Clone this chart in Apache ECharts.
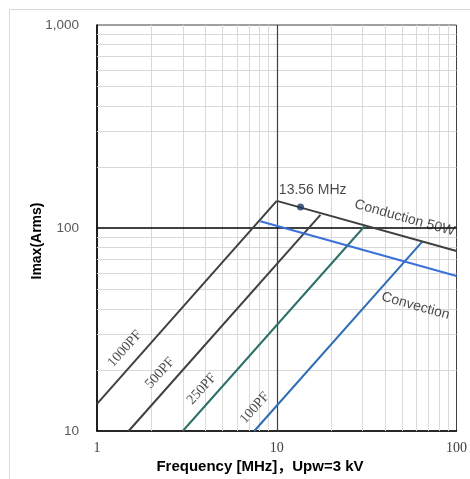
<!DOCTYPE html>
<html><head><meta charset="utf-8">
<script src="https://cdn.jsdelivr.net/npm/echarts@6/dist/echarts.min.js"></script>
<style>html,body{margin:0;padding:0;background:#fff}#c{width:470px;height:479px}</style>
</head><body><div id="c"></div>
<script>
// ---- data ----
const xTickLabels = {1: '1', 10: '10', 100: '100'};
const yTickLabels = {10: '10', 100: '100', 1000: '1,000'};
const line1000pF = [[1, 13.6], [10, 136]];
const line500pF = [[1.5, 10], [17.5, 116]];
const line250pF = [[3, 10], [30.8, 102]];
const line100pF = [[7.5, 10], [64.7, 86]];
const conduction = [[10, 136], [100, 77]];
const convection = [[8.1, 108], [100, 58]];
const marker1356 = [[13.56, 127]];
const minorX = [2,3,4,5,6,7,8,9,20,30,40,50,60,70,80,90];
const minorY = [20,30,40,50,60,70,80,90,200,300,400,500,600,700,800,900];
const annotations = [
  {name: '1000PF', value: [1.43, 25.4], rot: 48, serif: true},
  {name: '500PF', value: [2.24, 19.3], rot: 48, serif: true},
  {name: '250PF', value: [3.83, 16.1], rot: 48, serif: true},
  {name: '100PF', value: [7.55, 13.0], rot: 48, serif: true},
  {name: 'Conduction 50W', value: [51.4, 112], rot: -15.6, serif: false},
  {name: 'Convection', value: [59.2, 41.3], rot: -15.5, serif: false},
  {name: '13.56 MHz', value: [15.85, 153], rot: 0, serif: false}
];

const chart = echarts.init(document.getElementById('c'), null, {renderer: 'canvas'});
const gridLines = minorX.map(v => ({xAxis: v, lineStyle: {color: '#d9d9d9', width: 1, type: 'solid'}}))
  .concat(minorY.map(v => ({yAxis: v, lineStyle: {color: '#d9d9d9', width: 1, type: 'solid'}})))
  .concat([{xAxis: 10, lineStyle: {color: '#404040', width: 1.2, type: 'solid'}},
           {yAxis: 100, lineStyle: {color: '#000', width: 1.6, type: 'solid'}}]);

function lineSeries(data, color) {
  return {type: 'line', data: data, symbol: 'none', silent: true, z: 10,
    lineStyle: {color: color, width: 2, type: 'solid'}, animation: false};
}

chart.setOption({
  animation: false,
  backgroundColor: '#fff',
  grid: {left: 97, right: 13, top: 25, bottom: 48, show: true, borderColor: '#404040', borderWidth: 1},
  xAxis: {type: 'log', logBase: 10, min: 1, max: 100,
    axisLine: {show: true, lineStyle: {color: '#000', width: 1.6}},
    axisTick: {show: false}, splitLine: {show: false}, minorSplitLine: {show: false},
    axisLabel: {margin: 10, color: '#404040', fontFamily: 'Liberation Serif', fontSize: 14,
      formatter: v => xTickLabels[Math.round(v)] || ''}},
  yAxis: {type: 'log', logBase: 10, min: 10, max: 1000,
    axisLine: {show: true, lineStyle: {color: '#000', width: 1.6}},
    axisTick: {show: false}, splitLine: {show: false}, minorSplitLine: {show: false},
    axisLabel: {margin: 18, color: '#595959', fontFamily: 'Liberation Sans', fontSize: 13.5,
      formatter: v => yTickLabels[Math.round(v)] || ''}},
  graphic: [
    {type: 'rect', shape: {x: 9.5, y: 9.5, width: 500, height: 500}, style: {fill: 'none', stroke: '#d9d9d9', lineWidth: 1}, z: -1},
    {type: 'text', x: 37, y: 241, rotation: Math.PI / 2,
      style: {text: 'Imax(Arms)', font: 'bold 14px "Liberation Sans"', fill: '#000', align: 'center', verticalAlign: 'middle'}},
    {type: 'text', x: 260, y: 467,
      style: {text: 'Frequency [MHz]，Upw=3 kV', font: 'bold 15px "Liberation Sans", "Noto Sans CJK SC"', fill: '#000', align: 'center', verticalAlign: 'middle'}}
  ],
  series: [
    {type: 'line', data: [], silent: true, z: 1,
      markLine: {silent: true, z: 1, symbol: ['none', 'none'], label: {show: false}, animation: false,
        lineStyle: {type: 'solid'}, data: gridLines}},
    lineSeries(line1000pF, '#404040'),
    lineSeries(line500pF, '#404040'),
    lineSeries(line250pF, '#2f6f6a'),
    lineSeries(line100pF, '#2e6db4'),
    lineSeries(conduction, '#404040'),
    lineSeries(convection, '#3a70d8'),
    {type: 'scatter', data: marker1356, symbolSize: 7, z: 12, itemStyle: {color: '#1f3b63'}, silent: true},
    {type: 'scatter', z: 13, silent: true, symbolSize: 1, itemStyle: {color: 'transparent'},
      data: annotations.map(a => ({name: a.name, value: a.value,
        label: {show: true, position: 'inside', formatter: a.name, rotate: a.rot, color: '#1a1a1a',
          fontFamily: a.serif ? 'Liberation Serif' : 'Liberation Sans', fontSize: 14}}))}
  ]
});
</script></body></html>
